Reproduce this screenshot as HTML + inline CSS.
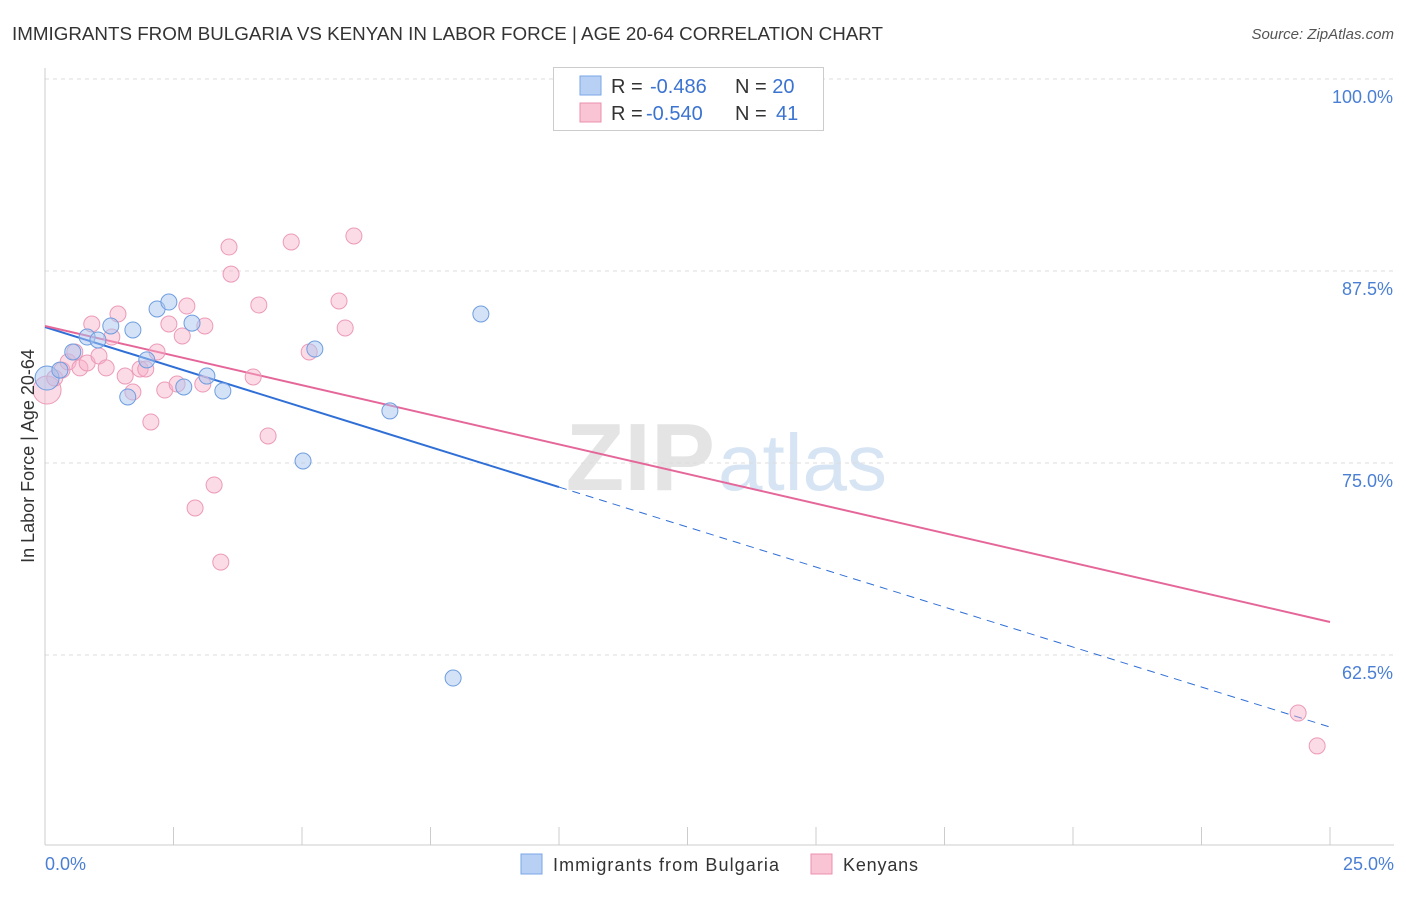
<!DOCTYPE html>
<html><head><meta charset="utf-8"><style>
body{margin:0;background:#fff;font-family:"Liberation Sans",sans-serif;}
</style></head><body>
<svg id="chart" width="1406" height="892" xmlns="http://www.w3.org/2000/svg" font-family="Liberation Sans, sans-serif">
<text x="12" y="40" font-size="18" fill="#333" textLength="871" lengthAdjust="spacingAndGlyphs">IMMIGRANTS FROM BULGARIA VS KENYAN IN LABOR FORCE | AGE 20-64 CORRELATION CHART</text>
<text x="1394" y="39" font-size="15" fill="#555" font-style="italic" text-anchor="end">Source: ZipAtlas.com</text>
<text x="715" y="490" font-size="96" fill="#e4e4e4" font-weight="bold" text-anchor="end">ZIP</text>
<text x="718" y="490" font-size="80" fill="#d6e4f4">atlas</text>
<g id="grid"></g>
<g id="axes"></g>
<g id="lines"></g>
<g id="points"></g>
<text transform="translate(34,456) rotate(-90)" font-size="18" fill="#333" text-anchor="middle">In Labor Force | Age 20-64</text>
<text x="45" y="870" font-size="18" fill="#4a7fd4">0.0%</text>
<text x="1394" y="870" font-size="18" fill="#4a7fd4" text-anchor="end">25.0%</text>
<g>
<rect x="553.5" y="67.5" width="270" height="63" fill="#fff" stroke="#ccc"/>
<rect x="580" y="76" width="21" height="19" fill="#b8d0f4" stroke="#7aa6e6"/>
<rect x="580" y="103" width="21" height="19" fill="#f9c4d4" stroke="#ec8fae"/>
<text x="611" y="93" font-size="20" fill="#333">R = <tspan fill="#3b73d1" x="650">-0.486</tspan><tspan x="735">N = </tspan><tspan fill="#3b73d1">20</tspan></text>
<text x="611" y="120" font-size="20" fill="#333">R = <tspan fill="#3b73d1" x="646">-0.540</tspan><tspan x="735">N = </tspan><tspan fill="#3b73d1" x="776">41</tspan></text>
</g>
<g>
<rect x="521" y="854" width="21" height="20" fill="#b8d0f4" stroke="#7aa6e6"/>
<text x="553" y="871" font-size="18" fill="#333" textLength="226">Immigrants from Bulgaria</text>
<rect x="811" y="854" width="21" height="20" fill="#f9c4d4" stroke="#ec8fae"/>
<text x="843" y="871" font-size="18" fill="#333" textLength="75">Kenyans</text>
</g>
</svg>
<script>
const yTicks=[100,87.5,75,62.5];
const yTickLabels=["100.0%","87.5%","75.0%","62.5%"];
const xTicks=[0,2.5,5,7.5,10,12.5,15,17.5,20,22.5,25];
const blueX=[0.04,0.29,0.54,0.82,1.03,1.28,1.61,1.71,1.98,2.18,2.41,2.70,2.86,3.15,3.46,5.02,5.25,6.71,7.94,8.48];
const blueY=[80.53,81.05,82.23,83.2,83.01,83.92,79.3,83.66,81.71,85.03,85.48,79.95,84.11,80.66,79.69,75.13,82.42,78.39,61.0,84.7];
const pinkX=[0.04,0.19,0.33,0.45,0.58,0.68,0.82,0.91,1.05,1.19,1.30,1.42,1.56,1.71,1.85,1.96,2.06,2.18,2.33,2.41,2.57,2.67,2.76,2.92,3.07,3.11,3.29,3.42,3.58,3.62,4.05,4.16,4.34,4.79,5.14,5.72,5.84,6.01,10.35,24.38,24.75];
const pinkY=[79.75,80.53,81.05,81.58,82.23,81.19,81.51,84.05,81.97,81.19,83.2,84.7,80.66,79.62,81.12,81.12,77.67,82.23,79.75,84.05,80.14,83.27,85.22,72.07,80.14,83.92,73.57,68.55,89.06,87.3,80.6,85.29,76.76,89.39,82.23,85.55,83.79,89.78,99.93,58.72,56.58];
const blueTrend=[83.85,57.81];
const pinkTrend=[83.92,64.65];
const blueSolidEnd=10;
const NS="http://www.w3.org/2000/svg";
const sx=v=>45+v*51.4;
const sy=v=>79+(100-v)*15.36;
function mk(tag,attrs,parent){const e=document.createElementNS(NS,tag);for(const k in attrs)e.setAttribute(k,attrs[k]);document.getElementById(parent).appendChild(e);return e;}
yTicks.forEach((t,i)=>{
  const l=mk('line',{x1:45,x2:1394,y1:sy(t),y2:sy(t),stroke:'#ddd','stroke-dasharray':'4,4'},'grid');
  
  
  const tx=mk('text',{x:1393,y:sy(t)+24,'font-size':18,fill:'#4a7fd4','text-anchor':'end'},'grid');
  tx.textContent=yTickLabels[i];
  
  
});
const ax=mk('line',{x1:45,x2:45,y1:68,y2:845,stroke:'#ccc'},'axes');


const bx=mk('line',{x1:45,x2:1394,y1:845,y2:845,stroke:'#ccc'},'axes');


xTicks.forEach(t=>{
  const l=mk('line',{x1:sx(t),x2:sx(t),y1:827,y2:845,stroke:'#ccc'},'axes');
  
  
});
const tb=v=>blueTrend[0]+(blueTrend[1]-blueTrend[0])*v/25;
const tp=v=>pinkTrend[0]+(pinkTrend[1]-pinkTrend[0])*v/25;
let l1=mk('line',{x1:sx(0),y1:sy(tb(0)),x2:sx(blueSolidEnd),y2:sy(tb(blueSolidEnd)),stroke:'#2f6fd6','stroke-width':2},'lines');


let l2=mk('line',{x1:sx(blueSolidEnd),y1:sy(tb(blueSolidEnd)),x2:sx(25),y2:sy(tb(25)),stroke:'#2f6fd6','stroke-width':1,'stroke-dasharray':'8,6'},'lines');


let l3=mk('line',{x1:sx(0),y1:sy(tp(0)),x2:sx(25),y2:sy(tp(25)),stroke:'#e5679a','stroke-width':2},'lines');


pinkX.forEach((x,i)=>{
  const c=mk('circle',{cx:sx(x),cy:sy(pinkY[i]),r:i===0?14:8,fill:'rgba(246,176,200,0.45)',stroke:'#ec9ab8','stroke-width':1},'points');
  
  
});
blueX.forEach((x,i)=>{
  const c=mk('circle',{cx:sx(x),cy:sy(blueY[i]),r:i===0?12:8,fill:'rgba(170,198,240,0.5)',stroke:'#6f9ddf','stroke-width':1},'points');
  
  
});
</script>
</body></html>
